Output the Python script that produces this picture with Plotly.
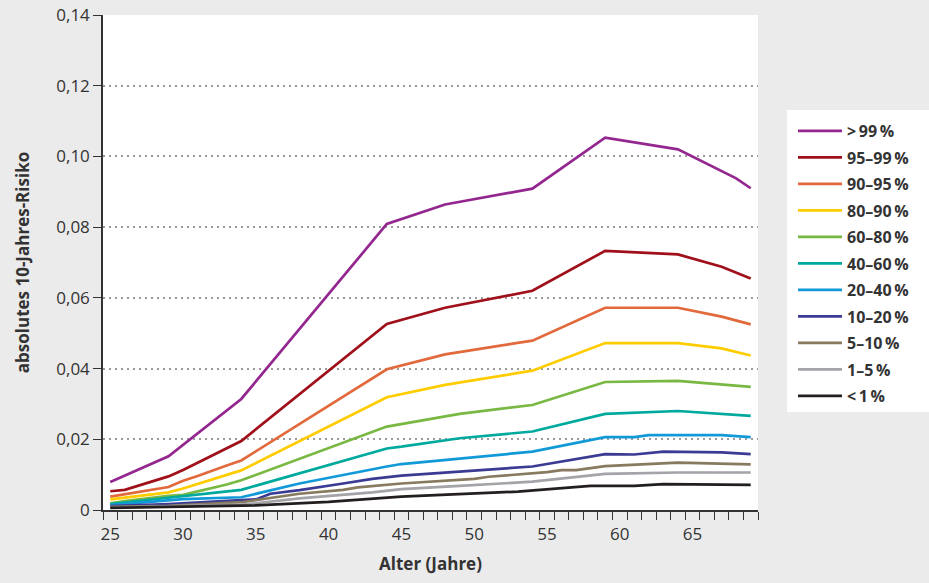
import plotly.graph_objects as go

# ---- data ----
series_names = [">\u200999\u2009%", "95–99\u2009%", "90–95\u2009%", "80–90\u2009%", "60–80\u2009%",
                "40–60\u2009%", "20–40\u2009%", "10–20\u2009%", "5–10\u2009%", "1–5\u2009%", "<\u20091\u2009%"]

ages_p99 = [25, 29, 34, 44, 48, 54, 59, 64, 68, 69]
risk_p99 = [0.0079, 0.0152, 0.0314, 0.0809, 0.0864, 0.0909, 0.1053, 0.1020, 0.0938, 0.0910]

ages_p95 = [25, 26, 29, 30, 34, 44, 48, 54, 59, 64, 67, 69]
risk_p95 = [0.0053, 0.0057, 0.0095, 0.0113, 0.0195, 0.0526, 0.0572, 0.0620, 0.0733, 0.0723, 0.0688, 0.0655]

ages_p90 = [25, 26, 29, 30, 31, 33, 34, 44, 48, 54, 59, 64, 67, 69]
risk_p90 = [0.0038, 0.0045, 0.0065, 0.0083, 0.0096, 0.0126, 0.0140, 0.0398, 0.0440, 0.0479, 0.0572, 0.0572, 0.0547, 0.0525]

ages_p80 = [25, 26, 29, 30, 33, 34, 44, 48, 54, 59, 64, 67, 69]
risk_p80 = [0.0030, 0.0035, 0.0050, 0.0061, 0.0099, 0.0112, 0.0319, 0.0354, 0.0394, 0.0472, 0.0472, 0.0457, 0.0437]

ages_p60 = [25, 26, 29, 30, 33, 34, 44, 45, 49, 54, 59, 64, 67, 69]
risk_p60 = [0.0019, 0.0025, 0.0040, 0.0043, 0.0072, 0.0084, 0.0236, 0.0243, 0.0272, 0.0297, 0.0362, 0.0365, 0.0355, 0.0348]

ages_p40 = [25, 29, 30, 34, 44, 45, 49, 54, 59, 64, 69]
risk_p40 = [0.0017, 0.0035, 0.0038, 0.0057, 0.0174, 0.0179, 0.0203, 0.0222, 0.0272, 0.0280, 0.0266]

ages_p20 = [25, 29, 30, 34, 38, 44, 45, 54, 59, 61, 62, 67, 69]
risk_p20 = [0.0014, 0.0028, 0.0031, 0.0036, 0.0075, 0.0123, 0.0130, 0.0165, 0.0206, 0.0206, 0.0212, 0.0212, 0.0206]

ages_p10 = [25, 29, 34, 35, 36, 38, 41, 43, 45, 54, 59, 61, 63, 67, 69]
risk_p10 = [0.0011, 0.0017, 0.0028, 0.0030, 0.0046, 0.0056, 0.0075, 0.0088, 0.0097, 0.0123, 0.0158, 0.0157, 0.0165, 0.0163, 0.0158]

ages_p05 = [25, 29, 34, 35, 38, 41, 42, 45, 50, 51, 55, 56, 57, 59, 64, 69]
risk_p05 = [0.0009, 0.0012, 0.0022, 0.0028, 0.0046, 0.0057, 0.0064, 0.0075, 0.0088, 0.0094, 0.0107, 0.0113, 0.0113, 0.0124, 0.0134, 0.0129]

ages_p01 = [25, 34, 35, 38, 43, 45, 49, 54, 59, 64, 69]
risk_p01 = [0.0007, 0.0015, 0.0019, 0.0033, 0.0050, 0.0059, 0.0068, 0.0080, 0.0102, 0.0106, 0.0106]

ages_p00 = [25, 34, 35, 40, 45, 53, 58, 61, 63, 69]
risk_p00 = [0.0006, 0.0011, 0.0013, 0.0023, 0.0038, 0.0052, 0.0068, 0.0068, 0.0073, 0.0071]

series_ages = [ages_p99, ages_p95, ages_p90, ages_p80, ages_p60, ages_p40, ages_p20, ages_p10, ages_p05, ages_p01, ages_p00]
series_risk = [risk_p99, risk_p95, risk_p90, risk_p80, risk_p60, risk_p40, risk_p20, risk_p10, risk_p05, risk_p01, risk_p00]

y_tick_vals = [0, 0.02, 0.04, 0.06, 0.08, 0.10, 0.12, 0.14]
y_tick_text = ["0", "0,02", "0,04", "0,06", "0,08", "0,10", "0,12", "0,14"]

colors = ["#93278f", "#a0101a", "#e2693c", "#ffcc00", "#79b843", "#00a99d",
          "#129ad8", "#3b3b94", "#877a5e", "#a3a3a8", "#231f20"]

FONT = "Open Sans"
fig = go.Figure()
for name, xs, ys, c in zip(series_names, series_ages, series_risk, colors):
    fig.add_trace(go.Scatter(x=xs, y=ys, mode="lines", name=name, legendgroup=name,
                             line=dict(color=c, width=2.7)))

W, H = 929, 583
L, R, T, B = 103, W - 758, 15, 73
pw, ph = W - L - R, H - T - B

def px_x(p):
    return (p - L) / pw

def px_y(p):
    return (H - B - p) / ph

fig.update_layout(
    width=W, height=H,
    margin=dict(l=L, r=R, t=T, b=B, autoexpand=False),
    paper_bgcolor="#ebebeb", plot_bgcolor="white",
    font=dict(family=FONT, size=17, color="#333333"),
    showlegend=True,
    legend=dict(x=px_x(793), y=px_y(114), xanchor="left", yanchor="top",
                bgcolor="rgba(0,0,0,0)", font=dict(family=FONT, size=16, color="#333333", weight="bold"),
                traceorder="grouped", tracegroupgap=2.7, itemwidth=44),
    shapes=[dict(type="rect", xref="paper", yref="paper", x0=px_x(787), x1=px_x(940),
                 y0=px_y(412), y1=px_y(110), fillcolor="white", line=dict(width=0), layer="below")],
)
fig.update_xaxes(
    range=[24.5, 69.5], tickmode="linear", tick0=25, dtick=5,
    ticks="outside", ticklen=8, tickcolor="rgba(0,0,0,0)",
    showline=True, linecolor="#333333", linewidth=1.5, showgrid=False, zeroline=False,
    minor=dict(tick0=24.5, dtick=1, ticks="outside", ticklen=8, tickcolor="#333333", tickwidth=1.2, showgrid=False),
    tickfont=dict(size=17),
    title=dict(text="Alter (Jahre)", font=dict(size=17, weight="bold"), standoff=14),
)
fig.update_yaxes(
    range=[0, 0.14], tickmode="array", tickvals=y_tick_vals, ticktext=y_tick_text,
    ticks="outside", ticklen=8, tickcolor="#333333", tickwidth=1.2,
    showline=True, linecolor="#333333", linewidth=1.5, zeroline=False,
    showgrid=True, gridcolor="#9a9a9a", gridwidth=1.5, griddash="2px,4px",
    tickfont=dict(size=17),
    title=dict(text="absolutes 10-Jahres-Risiko", font=dict(size=17, weight="bold"), standoff=22),
)
fig.write_html("out.html", config={"displayModeBar": False},
               post_script="document.body.style.margin='0px';document.body.style.overflow='hidden';")
